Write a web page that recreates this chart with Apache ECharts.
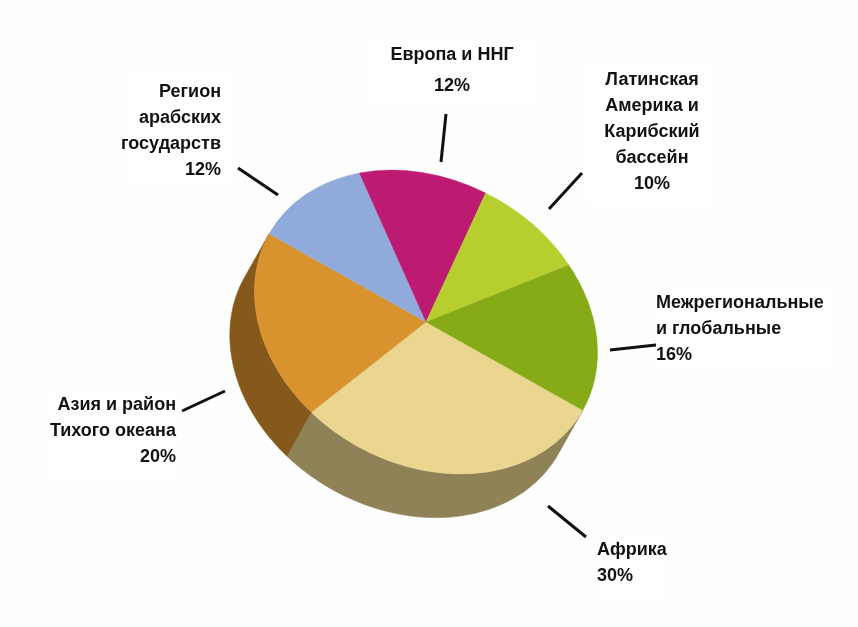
<!DOCTYPE html>
<html>
<head>
<meta charset="utf-8">
<title>chart</title>
<script src="https://cdn.jsdelivr.net/npm/echarts@6/dist/echarts.min.js"></script>
<style>
html,body{margin:0;padding:0;background:#fefefe;}
#main{width:858px;height:627px;}
</style>
</head>
<body>
<div id="main"></div>
<script>
// data, clockwise from the long axis of the tilted disc
var categories=["Африка","Азия и район\nТихого океана","Регион\nарабских\nгосударств","Европа и ННГ","Латинская\nАмерика и\nКарибский\nбассейн","Межрегиональные\nи глобальные"];
var shares=[30,20,12,12,10,16];
var topColors=["#ebd68f","#d9932e","#90aadb","#bd1a72","#b7cf2e","#87aa17"];
var sideColors=["#8f8257","#85591b","#5e7093","#7c114b","#78881e","#58700f"];

// layout of the disc
var cx=426,cy=322;
var radius=142;       // short half axis
var stretch=180/142;  // long half axis / short half axis
var tilt=29.4;        // degrees
var depth=50;

// label layout, same order as categories
var labelPos=[
	{x:597,y:563,align:"left",lh:26},
	{x:176,y:431,align:"right",lh:26},
	{x:221,y:131,align:"right",lh:26},
	{x:452,y:71,align:"center",lh:31},
	{x:652,y:132,align:"center",lh:26},
	{x:656,y:329,align:"left",lh:26}
];
var leaders=[
	[548,506,586,537],
	[225,391,182,411],
	[238,168,278,195],
	[446,114,441,162],
	[582,173,549,209],
	[656,345,610,350]
];
var boxes=[
	[597,540,70,60],
	[45,390,132,93],
	[130,73,100,110],
	[372,37,160,70],
	[588,65,127,140],
	[655,290,180,78]
];

function startOf(i){
	var s=0,t=0,k;
	for(k=0;k<shares.length;k++){t+=shares[k];}
	for(k=0;k<i;k++){s+=shares[k];}
	return s/t*360;
}

function renderSlice(params,api){
	var i=params.dataIndex;
	var a0=startOf(i);
	var a1=a0+api.value(0)/100*360;
	var kids=[];
	// only the near half of the rim can be seen
	if(a0<180){
		var end=Math.min(a1,180),pts=[],back=[],a;
		for(a=a0;a<=end;a+=1){
			var r=a*Math.PI/180;
			pts.push([radius*Math.cos(r),radius*Math.sin(r)]);
			back.unshift([radius*Math.cos(r),radius*Math.sin(r)+depth]);
		}
		kids.push({
			type:"polygon",
			shape:{points:pts.concat(back)},
			style:{fill:sideColors[i],stroke:sideColors[i],lineWidth:0.5}
		});
	}
	kids.push({
		type:"sector",
		shape:{cx:0,cy:0,r0:0,r:radius,startAngle:a0*Math.PI/180,endAngle:a1*Math.PI/180,clockwise:true},
		style:{fill:topColors[i],stroke:topColors[i],lineWidth:0.3}
	});
	return {
		type:"group",
		x:cx,y:cy,
		rotation:-tilt*Math.PI/180,
		scaleX:stretch,scaleY:1,
		children:kids
	};
}

function buildGraphic(){
	var list=[];
	boxes.forEach(function(b){
		list.push({type:"rect",z:1,silent:true,shape:{x:b[0],y:b[1],width:b[2],height:b[3]},style:{fill:"#ffffff"}});
	});
	leaders.forEach(function(l){
		list.push({type:"line",z:5,silent:true,shape:{x1:l[0],y1:l[1],x2:l[2],y2:l[3]},style:{stroke:"#111111",lineWidth:3}});
	});
	categories.forEach(function(name,i){
		var p=labelPos[i];
		list.push({
			type:"text",z:6,silent:true,
			x:p.x,y:p.y,
			style:{
				text:name+"\n"+shares[i]+"%",
				fill:"#111111",
				font:"bold 18px 'Liberation Sans Narrow','Liberation Sans',sans-serif",
				lineHeight:p.lh,
				align:p.align,
				verticalAlign:"middle"
			}
		});
	});
	return list;
}

var myChart=echarts.init(document.getElementById("main"),null,{renderer:"canvas"});
var option={
	backgroundColor:"#fefefe",
	animation:false,
	graphic:{elements:buildGraphic()},
	series:[{
		type:"custom",
		coordinateSystem:"none",
		z:3,
		silent:true,
		data:shares,
		renderItem:renderSlice
	}]
};
myChart.setOption(option);
</script>
</body>
</html>
